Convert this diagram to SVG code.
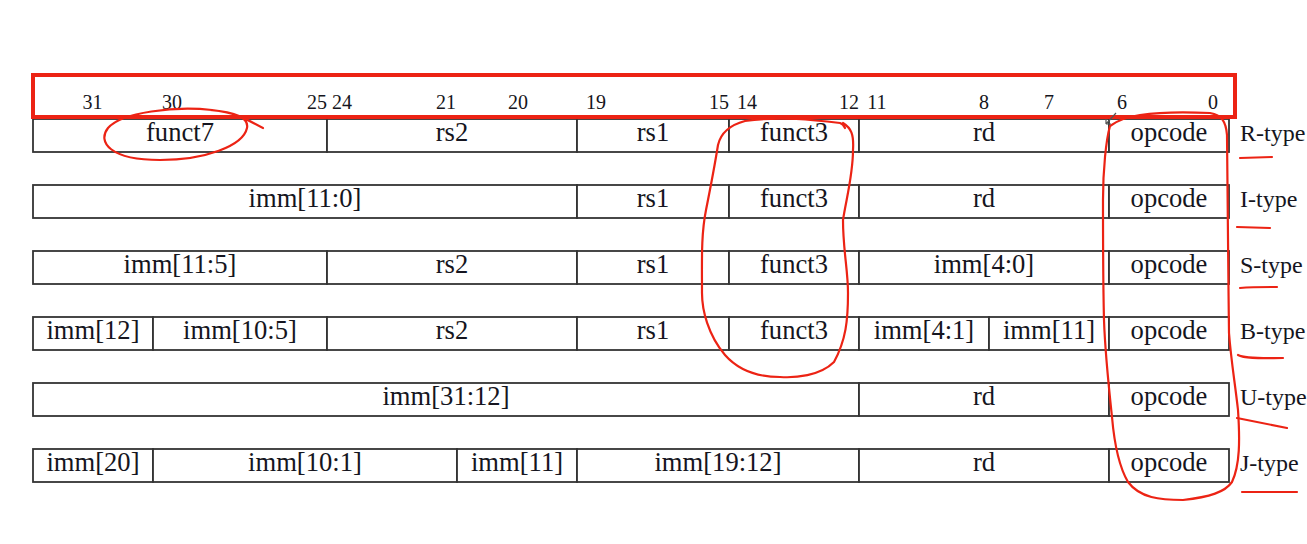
<svg xmlns="http://www.w3.org/2000/svg" width="1307" height="544" viewBox="0 0 1307 544">
<style>
.f{fill:#fff;stroke:#333;stroke-width:1.8}
.t{font-family:"Liberation Serif","Times New Roman",serif;font-size:26.6px;fill:#151520;text-anchor:middle}
.b{font-family:"Liberation Serif","Times New Roman",serif;font-size:20px;fill:#151520;text-anchor:middle}
.ty{font-family:"Liberation Serif","Times New Roman",serif;font-size:24px;fill:#151520}
.r{fill:none;stroke:#ec2314;stroke-width:2.2;stroke-linecap:round;stroke-linejoin:round}
</style>
<rect width="1307" height="544" fill="#fff"/>
<g id="bits">
<text class="b" x="92.5" y="109">31</text>
<text class="b" x="172" y="109">30</text>
<text class="b" x="317" y="109">25</text>
<text class="b" x="342" y="109">24</text>
<text class="b" x="446" y="109">21</text>
<text class="b" x="518" y="109">20</text>
<text class="b" x="596" y="109">19</text>
<text class="b" x="719" y="109">15</text>
<text class="b" x="747" y="109">14</text>
<text class="b" x="849" y="109">12</text>
<text class="b" x="877" y="109">11</text>
<text class="b" x="984" y="109">8</text>
<text class="b" x="1049" y="109">7</text>
<text class="b" x="1122" y="109">6</text>
<text class="b" x="1213" y="109">0</text>
</g>
<g id="r-type">
<g id="r-funct7"><rect class="f" x="33" y="119" width="294" height="33"/><text class="t" x="180" y="141">funct7</text></g>
<g id="r-rs2"><rect class="f" x="327" y="119" width="250" height="33"/><text class="t" x="452" y="141">rs2</text></g>
<g id="r-rs1"><rect class="f" x="577" y="119" width="152" height="33"/><text class="t" x="653" y="141">rs1</text></g>
<g id="r-funct3"><rect class="f" x="729" y="119" width="130" height="33"/><text class="t" x="794" y="141">funct3</text></g>
<g id="r-rd"><rect class="f" x="859" y="119" width="250" height="33"/><text class="t" x="984" y="141">rd</text></g>
<g id="r-opcode"><rect class="f" x="1109" y="119" width="120" height="33"/><text class="t" x="1169" y="141">opcode</text></g>
<text class="ty" x="1240" y="141">R-type</text>
</g>
<g id="i-type">
<g id="i-imm"><rect class="f" x="33" y="185" width="544" height="33"/><text class="t" x="305" y="207">imm[11:0]</text></g>
<g id="i-rs1"><rect class="f" x="577" y="185" width="152" height="33"/><text class="t" x="653" y="207">rs1</text></g>
<g id="i-funct3"><rect class="f" x="729" y="185" width="130" height="33"/><text class="t" x="794" y="207">funct3</text></g>
<g id="i-rd"><rect class="f" x="859" y="185" width="250" height="33"/><text class="t" x="984" y="207">rd</text></g>
<g id="i-opcode"><rect class="f" x="1109" y="185" width="120" height="33"/><text class="t" x="1169" y="207">opcode</text></g>
<text class="ty" x="1240" y="207">I-type</text>
</g>
<g id="s-type">
<g id="s-imm-hi"><rect class="f" x="33" y="251" width="294" height="33"/><text class="t" x="180" y="273">imm[11:5]</text></g>
<g id="s-rs2"><rect class="f" x="327" y="251" width="250" height="33"/><text class="t" x="452" y="273">rs2</text></g>
<g id="s-rs1"><rect class="f" x="577" y="251" width="152" height="33"/><text class="t" x="653" y="273">rs1</text></g>
<g id="s-funct3"><rect class="f" x="729" y="251" width="130" height="33"/><text class="t" x="794" y="273">funct3</text></g>
<g id="s-imm-lo"><rect class="f" x="859" y="251" width="250" height="33"/><text class="t" x="984" y="273">imm[4:0]</text></g>
<g id="s-opcode"><rect class="f" x="1109" y="251" width="120" height="33"/><text class="t" x="1169" y="273">opcode</text></g>
<text class="ty" x="1240" y="273">S-type</text>
</g>
<g id="b-type">
<g id="b-imm12"><rect class="f" x="33" y="317" width="120" height="33"/><text class="t" x="93" y="339">imm[12]</text></g>
<g id="b-imm10-5"><rect class="f" x="153" y="317" width="174" height="33"/><text class="t" x="240" y="339">imm[10:5]</text></g>
<g id="b-rs2"><rect class="f" x="327" y="317" width="250" height="33"/><text class="t" x="452" y="339">rs2</text></g>
<g id="b-rs1"><rect class="f" x="577" y="317" width="152" height="33"/><text class="t" x="653" y="339">rs1</text></g>
<g id="b-funct3"><rect class="f" x="729" y="317" width="130" height="33"/><text class="t" x="794" y="339">funct3</text></g>
<g id="b-imm4-1"><rect class="f" x="859" y="317" width="130" height="33"/><text class="t" x="924" y="339">imm[4:1]</text></g>
<g id="b-imm11"><rect class="f" x="989" y="317" width="120" height="33"/><text class="t" x="1049" y="339">imm[11]</text></g>
<g id="b-opcode"><rect class="f" x="1109" y="317" width="120" height="33"/><text class="t" x="1169" y="339">opcode</text></g>
<text class="ty" x="1240" y="339">B-type</text>
</g>
<g id="u-type">
<g id="u-imm"><rect class="f" x="33" y="383" width="826" height="33"/><text class="t" x="446" y="405">imm[31:12]</text></g>
<g id="u-rd"><rect class="f" x="859" y="383" width="250" height="33"/><text class="t" x="984" y="405">rd</text></g>
<g id="u-opcode"><rect class="f" x="1109" y="383" width="120" height="33"/><text class="t" x="1169" y="405">opcode</text></g>
<text class="ty" x="1240" y="405">U-type</text>
</g>
<g id="j-type">
<g id="j-imm20"><rect class="f" x="33" y="449" width="120" height="33"/><text class="t" x="93" y="471">imm[20]</text></g>
<g id="j-imm10-1"><rect class="f" x="153" y="449" width="304" height="33"/><text class="t" x="305" y="471">imm[10:1]</text></g>
<g id="j-imm11"><rect class="f" x="457" y="449" width="120" height="33"/><text class="t" x="517" y="471">imm[11]</text></g>
<g id="j-imm19-12"><rect class="f" x="577" y="449" width="282" height="33"/><text class="t" x="718" y="471">imm[19:12]</text></g>
<g id="j-rd"><rect class="f" x="859" y="449" width="250" height="33"/><text class="t" x="984" y="471">rd</text></g>
<g id="j-opcode"><rect class="f" x="1109" y="449" width="120" height="33"/><text class="t" x="1169" y="471">opcode</text></g>
<text class="ty" x="1240" y="471">J-type</text>
</g>
<g id="annotations">
<rect x="33" y="75" width="1202" height="42" fill="none" stroke="#ec2314" stroke-width="4"/>
<path class="r" d="M263 128 C250 122 240 113 212 110 C175 106 122 112 108 128 C97 142 110 160 160 160 C205 160 243 146 247 128 C249 118 236 112 210 110"/>
<path class="r" d="M843 123 C851 128 854 134 853 150 C853 175 846 200 843 220 C843 250 848 270 848 293 C848 320 846 340 834 362 C820 376 795 378 780 377 C760 377 740 372 725 355 C708 335 702 310 702 293 C702 260 701 235 706 210 C710 190 714 170 718 145 C721 132 730 125 745 121 C780 116 815 120 840 123 C843 124 844 126 845 128"/>
<path class="r" d="M1110 126 C1118 120 1126 117 1140 115 C1160 112 1190 112 1210 113 C1222 115 1226 122 1227 135 C1228 180 1228 260 1229 333 C1231 360 1235 383 1238 410 C1240 440 1240 465 1232 482 C1225 492 1210 497 1183 500 C1160 500 1140 498 1128 482 C1118 465 1114 440 1112 417 C1108 380 1105 350 1104 320 C1103 280 1103 230 1103 200 C1103 170 1106 140 1110 126"/>
<path class="r" d="M1240 158 L1272 157"/>
<path class="r" d="M1237 227 L1270 228"/>
<path class="r" d="M1240 288 C1252 287 1265 287 1277 287"/>
<path class="r" d="M1238 355 C1245 359 1265 358 1283 358"/>
<path class="r" d="M1237 418 L1287 428"/>
<path class="r" d="M1242 492 L1297 492"/>
</g>
<g id="cursor">
<path d="M1106 124 L1116 113 M1106 124 L1106 119 M1106 124 L1111 124" fill="none" stroke="#555" stroke-width="1.2"/>
</g>
</svg>
